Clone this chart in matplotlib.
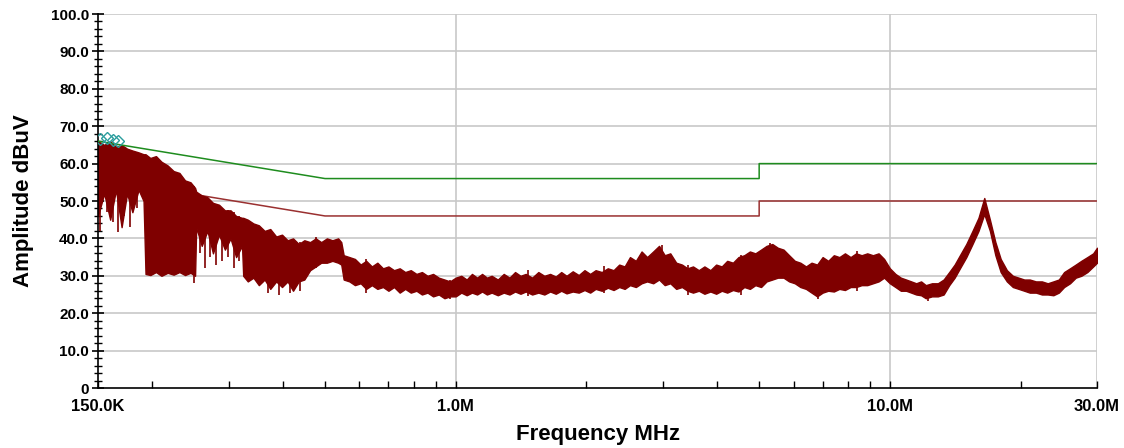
import matplotlib
matplotlib.use("Agg")
import matplotlib.pyplot as plt
from matplotlib import font_manager
from matplotlib.ticker import FixedLocator, NullFormatter, FixedFormatter

# ---------------- data ----------------
# spectrum envelope: frequency (MHz), upper and lower level (dBuV)
freq = [0.150, 0.155, 0.160, 0.165, 0.170, 0.175, 0.180, 0.186, 0.191, 0.193,
        0.198, 0.204, 0.210, 0.217, 0.224, 0.231, 0.238, 0.245, 0.251, 0.2525,
        0.260, 0.268, 0.276, 0.285, 0.294, 0.303, 0.312, 0.322, 0.324, 0.332,
        0.342, 0.352, 0.363, 0.374, 0.386, 0.398, 0.410, 0.422, 0.435, 0.448,
        0.462, 0.476, 0.490, 0.505, 0.520, 0.536, 0.545, 0.552, 0.569, 0.586,
        0.604, 0.622, 0.641, 0.660, 0.680, 0.700, 0.721, 0.743, 0.765, 0.788,
        0.812, 0.836, 0.861, 0.887, 0.914, 0.942, 0.970,
        1.00, 1.03, 1.06, 1.09, 1.12, 1.15, 1.18, 1.21, 1.25, 1.29,
        1.33, 1.37, 1.41, 1.45, 1.50, 1.55, 1.60, 1.65, 1.70, 1.75,
        1.80, 1.86, 1.92, 1.98, 2.04, 2.10, 2.17, 2.24, 2.31, 2.38,
        2.45, 2.52, 2.60, 2.68, 2.76, 2.85, 2.94, 3.03, 3.12, 3.22,
        3.32, 3.42, 3.52, 3.63, 3.74, 3.86, 3.98, 4.10, 4.22, 4.35,
        4.48, 4.62, 4.76, 4.90, 5.05, 5.20, 5.36, 5.52, 5.69, 5.86,
        6.04, 6.22, 6.41, 6.60, 6.80, 7.00, 7.21, 7.43, 7.65, 7.88,
        8.12, 8.36, 8.61, 8.87, 9.14, 9.42, 9.70,
        10.0, 10.3, 10.6, 10.9, 11.2, 11.5, 11.8, 12.1, 12.5, 12.9,
        13.3, 13.7, 14.1, 14.5, 15.0, 15.5, 16.0, 16.5, 17.0, 17.5,
        18.0, 18.6, 19.2, 19.8, 20.4, 21.0, 21.7, 22.4, 23.1, 23.8,
        24.5, 25.2, 26.0, 26.8, 27.6, 28.5, 29.4, 30.0]
upper = [66.0, 65.0, 66.0, 64.5, 65.0, 64.0, 63.5, 63.0, 62.5, 62.5,
         61.5, 62.0, 60.5, 59.5, 58.0, 57.5, 55.5, 55.0, 53.5, 52.5,
         51.5, 51.0, 49.5, 49.0, 47.5, 47.5, 46.0, 45.5, 45.5, 45.0,
         44.0, 43.5, 42.0, 42.5, 40.5, 41.0, 39.5, 40.0, 38.5, 39.5,
         39.0, 40.0, 39.0, 40.0, 39.5, 40.0, 39.0, 35.5, 35.0, 34.5,
         33.0, 34.0, 32.5, 33.5, 32.0, 32.5, 31.5, 32.0, 31.0, 31.5,
         30.5, 31.0, 30.0, 30.5, 29.5, 29.0, 28.5,
         29.5, 30.0, 29.0, 30.5, 29.5, 30.5, 29.5, 30.0, 29.0, 30.5,
         29.5, 31.0, 30.0, 30.5, 29.5, 31.0, 30.0, 30.5, 29.8, 31.0,
         30.0, 31.2, 30.2, 31.5, 30.5, 31.5, 31.0, 32.0, 31.5, 33.0,
         32.5, 35.0, 34.0, 36.5, 35.0, 36.5, 38.0, 35.5, 36.0, 33.5,
         33.0, 32.0, 32.5, 31.5, 32.5, 31.5, 33.0, 32.5, 34.0, 33.5,
         35.0, 35.5, 36.5, 36.0, 37.0, 38.0, 38.5, 37.5, 37.0, 35.5,
         34.0, 33.5, 32.5, 33.5, 33.0, 35.0, 34.0, 35.5, 35.0, 36.0,
         35.0, 36.0, 35.5, 36.0, 35.5, 36.0, 34.5,
         32.0, 30.5, 29.5, 29.0, 28.5, 28.0, 28.5, 27.5, 28.0, 28.0,
         29.0, 31.0, 33.0, 35.5, 38.5, 42.0, 45.5, 50.8, 45.0, 39.0,
         34.5, 31.5, 30.0, 29.5, 29.0, 29.0, 28.5, 28.5, 28.0, 28.5,
         29.0, 31.0, 32.0, 33.0, 34.0, 35.0, 36.0, 37.5]
lower = [46.0, 52.0, 45.0, 53.0, 43.0, 52.0, 47.0, 53.0, 50.0, 30.5,
         30.2, 31.0, 30.0, 30.8, 30.3, 31.0, 30.2, 30.8, 30.0, 43.0,
         38.0, 42.0, 36.0, 41.0, 37.0, 40.0, 35.0, 38.0, 30.0, 28.5,
         29.5, 27.5, 29.0, 26.5, 28.5, 27.0, 28.5, 26.0, 28.5, 29.0,
         31.5, 32.5, 33.5, 33.5, 34.0, 33.5, 33.0, 29.0, 28.5, 27.5,
         28.0, 26.5, 27.5, 26.5, 27.0, 26.0, 27.0, 25.5, 26.5, 25.5,
         26.0, 25.0, 25.5, 24.5, 25.0, 24.0, 24.5,
         24.5, 25.5, 24.8, 25.5, 25.0, 25.8, 25.0, 25.5, 24.8, 25.5,
         25.0, 25.8, 25.2, 25.8, 25.0, 25.5, 25.0, 25.8, 25.2, 26.0,
         25.3, 25.8, 25.5, 26.2, 25.5, 26.5, 26.0, 26.8, 26.2, 27.0,
         26.5, 27.5, 27.0, 28.0, 28.5, 28.0, 29.0, 27.5, 28.0, 26.5,
         27.0, 26.0, 25.5, 26.0, 25.2, 25.8, 25.2, 26.0, 25.5, 26.2,
         25.8, 27.0, 26.5, 27.5, 27.0, 28.5, 29.0, 29.5, 29.5, 28.5,
         28.0, 27.0, 26.5, 25.5, 24.5, 25.5, 26.0, 25.8, 26.5, 26.2,
         27.0, 27.0, 27.5, 27.5, 28.0, 28.5, 29.5,
         28.0, 27.0, 26.0, 26.0, 25.5, 25.0, 24.8, 24.0, 24.5, 24.5,
         25.0, 27.5, 29.5, 32.0, 35.0, 38.5, 42.0, 46.5, 42.0, 35.5,
         31.0, 28.5, 27.0, 26.5, 26.0, 25.5, 25.5, 25.0, 25.0, 24.8,
         25.5, 27.0, 28.0, 29.5, 30.0, 31.0, 32.5, 33.5]

# individual spikes: frequency (MHz), bottom and top (dBuV)
spike_f = [0.152, 0.157, 0.162, 0.167, 0.172, 0.178, 0.184,
           0.250, 0.258, 0.265, 0.272, 0.281, 0.290, 0.299, 0.308, 0.317,
           0.370, 0.392, 0.416, 0.439, 0.476, 0.62, 0.97, 1.47, 2.20,
           2.98, 3.42, 4.55, 5.30, 6.82, 8.40, 12.24]
spike_lo = [42.0, 47.0, 44.5, 41.8, 46.0, 43.0, 48.0,
            28.0, 36.0, 32.0, 35.0, 33.0, 34.0, 35.0, 32.0, 34.0,
            25.5, 25.0, 25.5, 26.0, 32.0, 25.5, 23.8, 24.5, 25.5,
            28.5, 24.8, 25.0, 28.5, 23.8, 26.0, 23.2]
spike_hi = [65.0, 64.5, 65.0, 64.0, 64.0, 63.5, 63.0,
            54.0, 51.0, 50.5, 50.0, 49.0, 48.0, 47.5, 47.0, 46.0,
            41.5, 40.5, 39.5, 39.0, 40.5, 34.5, 29.0, 31.5, 32.5,
            38.3, 33.0, 35.5, 38.8, 33.0, 36.5, 27.5]

# limit lines (dBuV)
qp_f = [0.15, 0.5, 5.0, 5.0, 30.0]
qp_v = [66.0, 56.0, 56.0, 60.0, 60.0]
av_f = [0.15, 0.5, 5.0, 5.0, 30.0]
av_v = [56.0, 46.0, 46.0, 50.0, 50.0]

# marker points
mark_f = [0.1516, 0.1574, 0.1622, 0.1667]
mark_v = [66.6, 66.8, 66.4, 66.1]

y_major = [0, 10, 20, 30, 40, 50, 60, 70, 80, 90, 100]
y_labels = ["0", "10.0", "20.0", "30.0", "40.0", "50.0", "60.0", "70.0", "80.0", "90.0", "100.0"]
x_major = [0.15, 1.0, 10.0, 30.0]
x_labels = ["150.0K", "1.0M", "10.0M", "30.0M"]
x_minor = [0.2, 0.3, 0.4, 0.5, 0.6, 0.7, 0.8, 0.9, 2, 3, 4, 5, 6, 7, 8, 9, 20]

# ---------------- fonts ----------------
names = {f.name for f in font_manager.fontManager.ttflist}
narrow = "Liberation Sans Narrow" if "Liberation Sans Narrow" in names else "Liberation Sans"
plt.rcParams["font.family"] = ["Liberation Sans", "DejaVu Sans"]

# ---------------- figure ----------------
fig = plt.figure(figsize=(11.24, 4.48), dpi=100)
ax = fig.add_axes([98 / 1124, 1 - 388 / 448, (1097 - 98) / 1124, (388 - 14) / 448])
ax.set_xscale("log")
ax.set_xlim(0.15, 30)
ax.set_ylim(0, 100)

grid_c = "#c8c8c8"
for v in y_major[1:]:
    ax.axhline(v, color=grid_c, lw=1.2, zorder=0)
for v in [1.0, 10.0, 30.0]:
    ax.axvline(v, color=grid_c, lw=1.2, zorder=0)

trace_c = "#7f0000"
ax.fill_between(freq, lower, upper, color=trace_c, lw=1.0, edgecolor=trace_c, zorder=2)
ax.vlines(spike_f, spike_lo, spike_hi, color=trace_c, lw=1.2, zorder=2)

ax.plot(qp_f, qp_v, color="#1e8c1e", lw=1.1, zorder=3)
ax.plot(av_f, av_v, color="#9a3030", lw=1.1, zorder=1.5)
ax.plot(mark_f, mark_v, ls="none", marker="D", ms=6.5, mfc="none", mec="#2a9d9d", mew=1.0, zorder=4)

for s in ["top", "right"]:
    ax.spines[s].set_visible(False)
ax.spines["left"].set_linewidth(1.2)
ax.spines["bottom"].set_linewidth(1.2)

ax.yaxis.set_major_locator(FixedLocator(y_major))
ax.yaxis.set_major_formatter(FixedFormatter(y_labels))
ax.yaxis.set_minor_locator(FixedLocator([v for v in range(0, 101, 2) if v % 10]))
ax.tick_params(axis="y", which="major", direction="inout", length=9, width=1.2, pad=2,
               labelsize=11)
ax.tick_params(axis="y", which="minor", direction="inout", length=6, width=1.0)

ax.xaxis.set_major_locator(FixedLocator(x_major))
ax.xaxis.set_major_formatter(FixedFormatter(x_labels))
ax.xaxis.set_minor_locator(FixedLocator(x_minor))
ax.xaxis.set_minor_formatter(NullFormatter())
ax.tick_params(axis="x", which="major", direction="in", length=5, width=1.0, pad=8,
               labelsize=12)
ax.tick_params(axis="x", which="minor", direction="in", length=5, width=1.0)

for lab in ax.get_yticklabels():
    lab.set_fontweight("bold")
for lab in ax.get_xticklabels():
    lab.set_fontweight("bold")
    lab.set_family([narrow, "DejaVu Sans"])

ax.set_ylabel("Amplitude dBuV", fontsize=16, fontweight="bold", labelpad=12)
ax.set_xlabel("Frequency MHz", fontsize=16, fontweight="bold", family=[narrow, "DejaVu Sans"],
              labelpad=7)

fig.savefig("out.png", dpi=100)
